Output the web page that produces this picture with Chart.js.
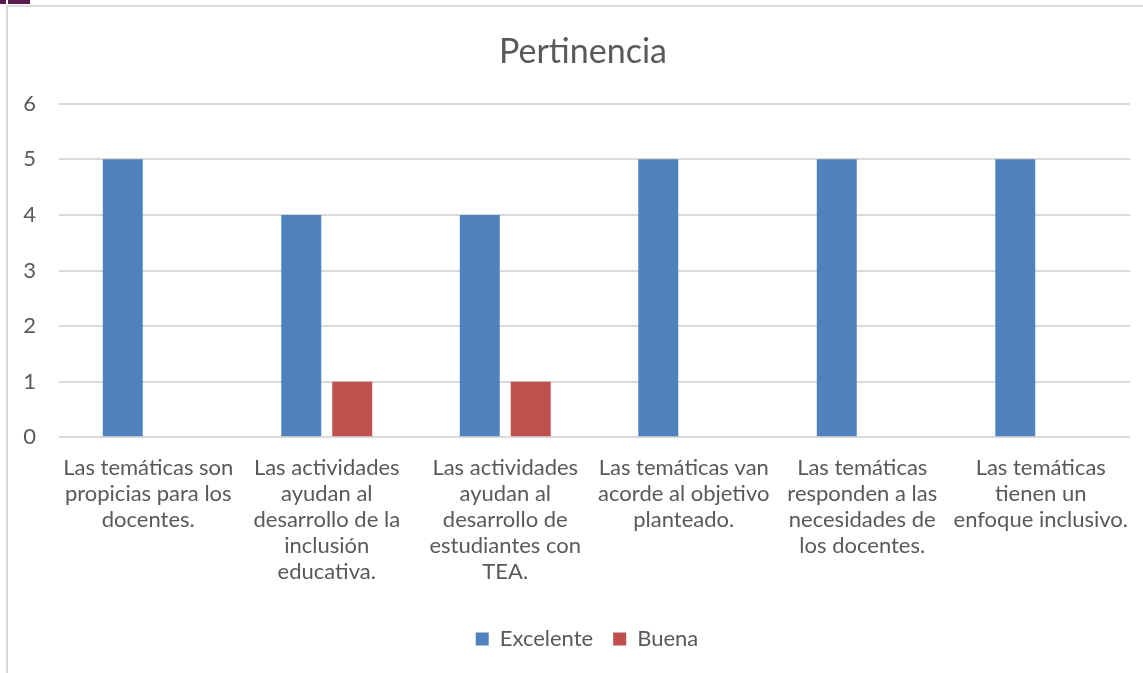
<!DOCTYPE html>
<html>
<head>
<meta charset="utf-8">
<script src="https://cdn.jsdelivr.net/npm/chart.js@4.4.1/dist/chart.umd.min.js"></script>
<style>
  html, body { margin: 0; padding: 0; background: #ffffff; overflow: hidden; }
  #wrap { position: absolute; left: 0; top: 0; width: 1143px; height: 673px; }
  #frameL { position: absolute; left: 6px; top: 5px; width: 2px; height: 668px; background: #d9d9d9; }
  #frameT { position: absolute; left: 6px; top: 5px; width: 1137px; height: 2px; background: #d9d9d9; }
  #tab1 { position: absolute; left: 0; top: 0; width: 6px; height: 4px; background: #5b1a4c; }
  #tab2 { position: absolute; left: 8px; top: 0; width: 22px; height: 4px; background: #5b1a4c; }
  #c { position: absolute; left: 0; top: 0; }
</style>
</head>
<body>
<div id="wrap">
  <div id="tab1"></div><div id="tab2"></div>
  <div id="frameL"></div><div id="frameT"></div>
  <canvas id="c" width="1143" height="673"></canvas>
</div>
<script>
const categories = [
  ["Las temáticas son", "propicias para los", "docentes."],
  ["Las actividades", "ayudan al", "desarrollo de la", "inclusión", "educativa."],
  ["Las actividades", "ayudan al", "desarrollo de", "estudiantes con", "TEA."],
  ["Las temáticas van", "acorde al objetivo", "planteado."],
  ["Las temáticas", "responden a las", "necesidades de", "los docentes."],
  ["Las temáticas", "tienen un", "enfoque inclusivo."]
];
const excelente = [5, 4, 4, 5, 5, 5];
const buena = [0, 1, 1, 0, 0, 0];
const yTicks = [0, 1, 2, 3, 4, 5, 6];

const FONT = "Lato, 'Open Sans', sans-serif";
const TXT = "#595959";

const shiftBoxes = {
  id: 'shiftBoxes',
  afterLayout(chart) {
    if (chart.legend) { chart.legend.left += 22; chart.legend.right += 22; }
    if (chart.titleBlock) { chart.titleBlock.left += 18; chart.titleBlock.right += 18; }
  }
};

new Chart(document.getElementById('c'), {
  type: 'bar',
  data: {
    labels: categories,
    datasets: [
      { label: 'Excelente', data: excelente, backgroundColor: '#4F81BD', borderWidth: 0,
        categoryPercentage: 0.571, barPercentage: 0.784 },
      { label: 'Buena', data: buena, backgroundColor: '#C0504D', borderWidth: 0,
        categoryPercentage: 0.571, barPercentage: 0.784 }
    ]
  },
  plugins: [shiftBoxes],
  options: {
    responsive: false,
    animation: false,
    devicePixelRatio: 1,
    layout: { padding: { left: 0, right: 13, top: 0, bottom: 13 } },
    plugins: {
      title: {
        display: true, text: 'Pertinencia', color: TXT,
        font: { family: FONT, size: 34, weight: 'normal' },
        padding: { top: 32, bottom: 31 }
      },
      legend: {
        position: 'bottom',
        labels: {
          color: TXT, font: { family: FONT, size: 22 },
          boxWidth: 13, boxHeight: 13, padding: 20
        }
      },
      tooltip: { enabled: false }
    },
    scales: {
      x: {
        afterFit: (s) => { s.height += 13; },
        grid: { display: false },
        border: { display: false },
        ticks: { color: TXT, font: { family: FONT, size: 22, lineHeight: 1.18 }, padding: 10, maxRotation: 0, autoSkip: false }
      },
      y: {
        min: 0, max: 6,
        afterBuildTicks: (s) => { s.ticks = yTicks.map(v => ({ value: v })); },
        afterFit: (s) => { s.width = 59; },
        grid: { color: '#d9d9d9', lineWidth: 2, drawTicks: false },
        border: { display: false },
        ticks: { color: TXT, font: { family: FONT, size: 22 }, padding: 23 }
      }
    }
  }
});
</script>
</body>
</html>
